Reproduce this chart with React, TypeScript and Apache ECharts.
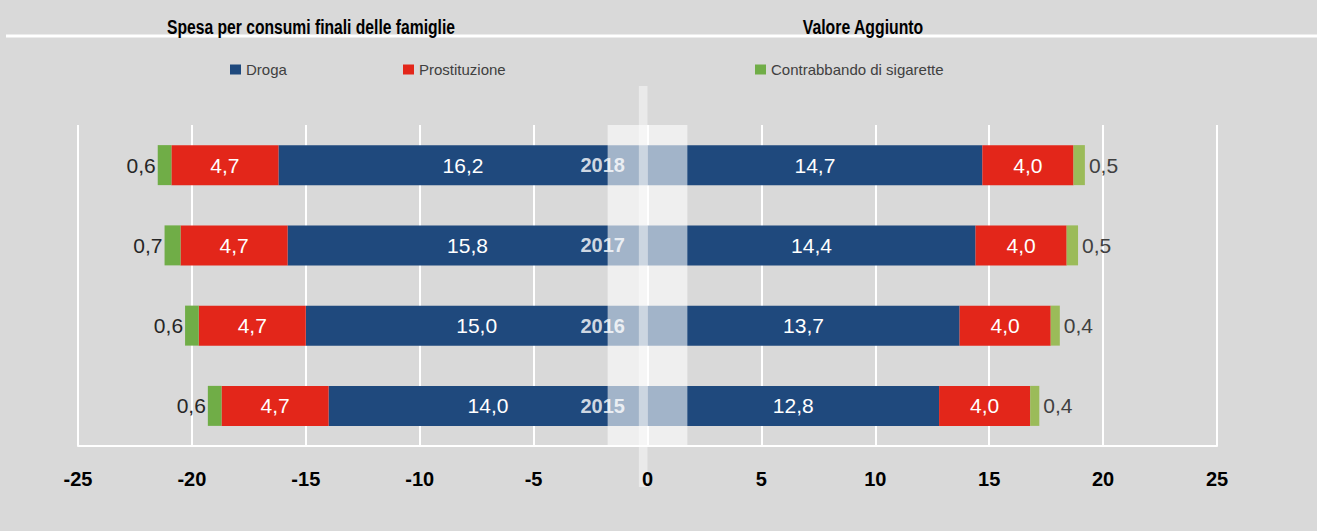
import React, { useEffect, useRef } from "react";
import * as echarts from "echarts";

const years = ["2015", "2016", "2017", "2018"];
const spesaDroga = [14.0, 15.0, 15.8, 16.2];
const spesaProst = [4.7, 4.7, 4.7, 4.7];
const spesaContr = [0.6, 0.6, 0.7, 0.6];
const vaDroga = [12.8, 13.7, 14.4, 14.7];
const vaProst = [4.0, 4.0, 4.0, 4.0];
const vaContr = [0.4, 0.4, 0.5, 0.5];
const seriesNames = ["Droga", "Prostituzione", "Contrabbando di sigarette"];
const panelTitles = ["Spesa per consumi finali delle famiglie", "Valore Aggiunto"];
const xMin = -25;
const xMax = 25;
const xStep = 5;

const FONT = "'Liberation Sans', Arial, sans-serif";
const BLUE = "#1F497D";
const RED = "#E3261A";
const GREEN_L = "#70AD47";
const GREEN_R = "#9BBB59";
const BG = "#D9D9D9";

const GRID_TOP = 125;
const GRID_BOTTOM_PX = 446;
const W = 1317;
const H = 531;

const fmt = (p: any) => Math.abs(p.value).toFixed(1).replace(".", ",");

function measure(text: string, font: string) {
  const c = document.createElement("canvas").getContext("2d");
  if (!c) return 1;
  c.font = font;
  return c.measureText(text).width || 1;
}

export default function App() {
  const ref = useRef<HTMLDivElement>(null);
  useEffect(() => {
    if (!ref.current) return;
    const chart = echarts.init(ref.current, undefined, { renderer: "svg" });
    const inside = {
      show: true,
      position: "inside" as const,
      color: "#FFFFFF",
      fontSize: 21,
      fontFamily: FONT,
      formatter: fmt,
    };
    const neg = (a: number[]) => a.map((v) => -v);
    const mkBar = (name: string, data: number[], color: string, label: any) => ({
      type: "bar",
      name,
      stack: "tot",
      barWidth: 40,
      data,
      itemStyle: { color },
      label,
      z: 2,
    });
    const legendLefts = [230, 403, 755];
    chart.setOption({
      animation: false,
      backgroundColor: BG,
      color: [BLUE, RED, GREEN_L],
      grid: { left: 78, right: W - 1217, top: GRID_TOP, bottom: H - GRID_BOTTOM_PX, containLabel: false },
      legend: seriesNames.map((n, i) => ({
        data: [n],
        left: legendLefts[i],
        top: 62,
        padding: 0,
        icon: "rect",
        itemWidth: 11,
        itemHeight: 10,
        itemGap: 0,
        selectedMode: false,
        textStyle: { fontSize: 15, color: "#404040", fontFamily: FONT },
      })),
      xAxis: [
        {
          type: "value",
          min: xMin,
          max: xMax,
          interval: xStep,
          position: "bottom",
          axisLine: { show: true, onZero: false, lineStyle: { color: "#FFFFFF", width: 2 } },
          axisTick: { show: false },
          axisLabel: { show: false },
          splitLine: { show: true, lineStyle: { color: "#FFFFFF", width: 2 } },
        },
        {
          type: "value",
          min: xMin,
          max: xMax,
          interval: xStep,
          position: "bottom",
          z: 30,
          axisLine: { show: false, onZero: false },
          axisTick: { show: false },
          splitLine: { show: false },
          axisLabel: {
            show: true,
            margin: 23,
            fontSize: 20,
            fontWeight: "bold",
            color: "#000000",
            fontFamily: FONT,
          },
        },
      ],
      yAxis: {
        type: "category",
        data: years,
        axisLine: { show: false, onZero: false },
        axisTick: { show: false },
        axisLabel: { show: false },
        splitLine: { show: false },
      },
      series: [
        mkBar(seriesNames[0], neg(spesaDroga), BLUE, inside),
        mkBar(seriesNames[1], neg(spesaProst), RED, inside),
        mkBar(seriesNames[2], neg(spesaContr), GREEN_L, {
          show: true,
          position: "left",
          distance: 2,
          color: "#262626",
          fontSize: 21,
          fontFamily: FONT,
          formatter: fmt,
        }),
        mkBar(seriesNames[0], vaDroga, BLUE, inside),
        mkBar(seriesNames[1], vaProst, RED, inside),
        mkBar(seriesNames[2], vaContr, GREEN_R, {
          show: true,
          position: "right",
          distance: 4,
          color: "#404040",
          fontSize: 21,
          fontFamily: FONT,
          formatter: fmt,
        }),
        {
          type: "scatter",
          name: "anni",
          data: years.map((y) => [0, y]),
          symbolSize: 1,
          itemStyle: { color: "rgba(0,0,0,0)" },
          silent: true,
          z: 40,
          label: {
            show: true,
            position: "left",
            distance: 22,
            color: "#FFFFFF",
            fontSize: 20,
            fontWeight: "bold",
            fontFamily: FONT,
            formatter: (p: any) => p.value[1],
          },
        },
      ],
    });

    const px = (v: number) => chart.convertToPixel({ xAxisIndex: 0 }, v) as number;
    const xa = px(-1.75);
    const xb = px(1.75);
    const xt0 = px(-0.38);
    const xt1 = px(0);
    const titleFont = "bold 21px 'Liberation Sans', Arial, sans-serif";
    const titleTargets = [288, 121];
    const titleCenters = [311, 863];
    const titles = panelTitles.map((t, i) => ({
      type: "text",
      z: 5,
      x: titleCenters[i],
      y: 26.5,
      scaleX: titleTargets[i] / measure(t, titleFont),
      style: {
        text: t,
        align: "center",
        verticalAlign: "middle",
        fontSize: 21,
        fontWeight: "bold",
        fill: "#000000",
        fontFamily: FONT,
      },
    }));
    chart.setOption({
      graphic: [
        {
          type: "line",
          z: 0,
          shape: { x1: 6, y1: 36, x2: W, y2: 36 },
          style: { stroke: "#FFFFFF", lineWidth: 3 },
        },
        ...titles,
        {
          type: "rect",
          z: 10,
          shape: { x: xa, y: GRID_TOP, width: xb - xa, height: GRID_BOTTOM_PX - GRID_TOP },
          style: { fill: "rgba(255,255,255,0.59)" },
        },
        {
          type: "rect",
          z: 11,
          shape: { x: xt0, y: 86, width: xt1 - xt0, height: 487 - 86 },
          style: { fill: "rgba(255,255,255,0.45)" },
        },
      ],
    });
    return () => chart.dispose();
  }, []);
  return (
    <div
      ref={ref}
      style={{ position: "absolute", left: 0, top: 0, width: W, height: H, background: BG }}
    />
  );
}
